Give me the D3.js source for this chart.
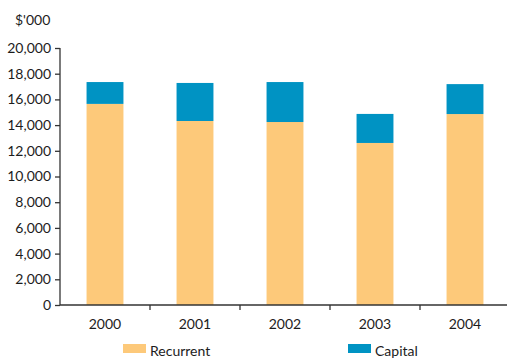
<!DOCTYPE html>
<html>
<head>
<meta charset="utf-8">
<script src="https://cdn.jsdelivr.net/npm/d3@7"></script>
<style>
  html, body { margin: 0; padding: 0; background: #fff; }
  text { font-family: Lato, "Open Sans", sans-serif; fill: #1c1c1c; }
</style>
</head>
<body>
<svg id="chart" width="510" height="358"></svg>
<script>
// Expenditure by year, in $'000
const years = ["2000", "2001", "2002", "2003", "2004"];
const recurrent = [15650, 14320, 14240, 12610, 14860];
const capital = [1700, 2960, 3110, 2260, 2330];
const yTicks = [0, 2000, 4000, 6000, 8000, 10000, 12000, 14000, 16000, 18000, 20000];
const seriesNames = ["Recurrent", "Capital"];
const colors = ["#FDC97A", "#0093C3"];

const svg = d3.select("#chart");
const margin = { left: 60, right: 0, top: 48, bottom: 53 };
const W = 510, H = 358;

const x = d3.scaleBand().domain(years).range([margin.left, W - margin.right]).paddingInner(0.59).paddingOuter(0.295);
const y = d3.scaleLinear().domain([0, 20000]).range([H - margin.bottom, margin.top]);

const rows = years.map((yr, i) => ({ year: yr, Recurrent: recurrent[i], Capital: capital[i] }));
const stack = d3.stack().keys(seriesNames)(rows);

svg.append("g").selectAll("g").data(stack).join("g")
  .attr("fill", (d, i) => colors[i])
  .selectAll("rect").data(d => d).join("rect")
  .attr("x", d => x(d.data.year))
  .attr("width", x.bandwidth())
  .attr("y", d => y(d[1]))
  .attr("height", d => y(d[0]) - y(d[1]));

// y axis
const yAxis = svg.append("g").attr("transform", `translate(${margin.left},0)`)
  .call(d3.axisLeft(y).tickValues(yTicks).tickFormat(d3.format(",")).tickSize(5).tickPadding(4));
yAxis.selectAll("text").style("font-size", "14px");
yAxis.selectAll("line, path").attr("stroke", "#333").attr("stroke-width", 1.3);
yAxis.select(".domain").attr("d", `M-0,${y(20000)}H0V${y(0)}`);

// x axis: line with ticks between categories
const y0 = y(0);
const xg = svg.append("g");
xg.append("line").attr("x1", margin.left).attr("x2", W - 3).attr("y1", y0).attr("y2", y0)
  .attr("stroke", "#333").attr("stroke-width", 1.3);
const gap = (x.step() - x.bandwidth()) / 2;
xg.selectAll("line.sep").data(years.slice(1)).join("line").attr("class", "sep")
  .attr("x1", d => x(d) - gap)
  .attr("x2", d => x(d) - gap)
  .attr("y1", y0).attr("y2", y0 + 5)
  .attr("stroke", "#333").attr("stroke-width", 1.3);
xg.selectAll("text").data(years).join("text")
  .attr("x", d => x(d) + x.bandwidth() / 2)
  .attr("y", y0 + 24)
  .attr("text-anchor", "middle")
  .style("font-size", "14px")
  .text(d => d);

// unit label
svg.append("text").attr("x", 15).attr("y", 25).style("font-size", "14px").text("$'000");

// legend
const legendX = [123, 348];
const lg = svg.append("g").selectAll("g").data(seriesNames).join("g")
  .attr("transform", (d, i) => `translate(${legendX[i]},344)`);
lg.append("rect").attr("width", 23).attr("height", 9).attr("fill", (d, i) => colors[i]);
lg.append("text").attr("x", 27).attr("y", 12).style("font-size", "14px").text(d => d);
</script>
</body>
</html>
